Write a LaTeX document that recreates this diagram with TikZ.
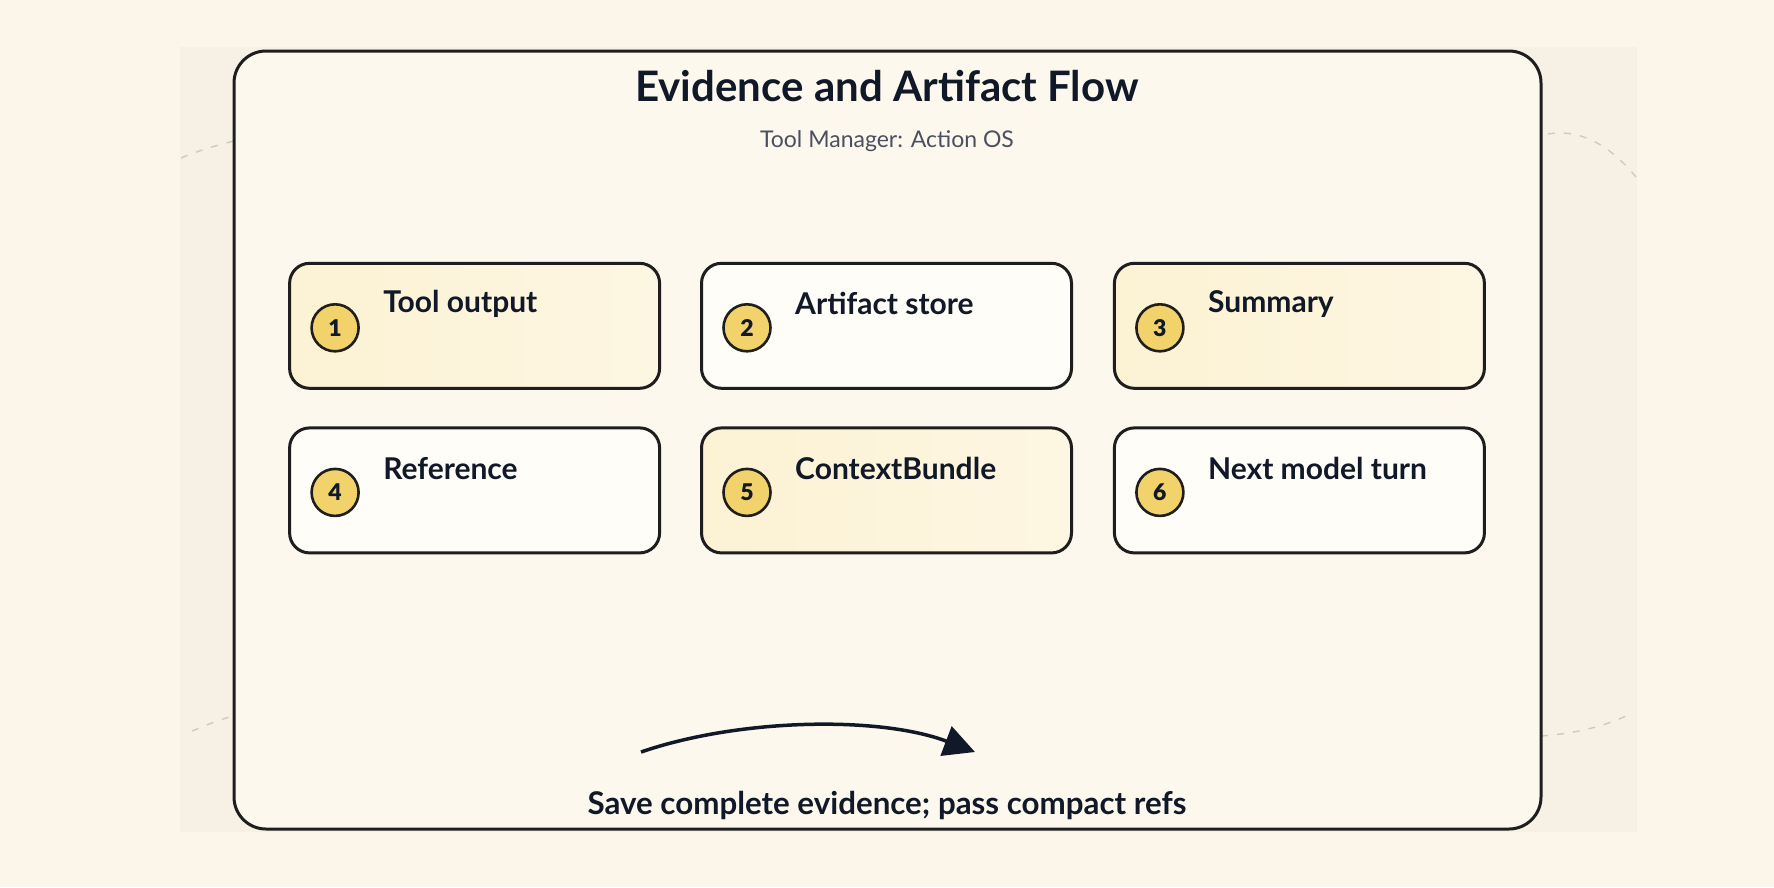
\documentclass[tikz,border=0pt]{standalone}
\usepackage{fontspec}
\setmainfont{Lato}
\newfontfamily\heavyfont{Lato Black}
\usetikzlibrary{arrows.meta,shapes.misc}
\definecolor{bgc}{HTML}{FBF5EA}
\definecolor{panelc}{HTML}{F7F1E5}
\definecolor{framefill}{HTML}{FCF8EE}
\definecolor{ink}{HTML}{111827}
\definecolor{strokec}{HTML}{1E1E1E}
\definecolor{subc}{HTML}{4B5060}
\definecolor{yelA}{HTML}{FCF2D4}
\definecolor{yelB}{HTML}{FDF6E2}
\definecolor{whiteA}{HTML}{FFFDF7}
\definecolor{badgec}{HTML}{F2D36B}
\definecolor{dashc}{HTML}{CFCAC1}
\tikzset{
  cardbox/.style={draw=strokec, line width=3pt, rounded corners=20pt,
    minimum width=370pt, minimum height=125pt, inner sep=0pt},
  yelcard/.style={cardbox, left color=yelA, right color=yelB},
  whitecard/.style={cardbox, fill=whiteA},
  badge/.style={circle, draw=strokec, line width=2.6pt, fill=badgec,
    minimum size=47pt, inner sep=0pt, text=ink, font=\fontsize{23}{23}\selectfont\heavyfont},
  lbl/.style={anchor=west, text=ink, inner sep=0pt, font=\fontsize{30}{30}\selectfont\bfseries},
  faintdash/.style={draw=dashc, line width=1.4pt, dash pattern=on 7pt off 9pt},
  flowarrow/.style={draw=ink, line width=3.5pt, -{Triangle[length=31pt,width=31pt]}}
}
\begin{document}
\begin{tikzpicture}[x=1pt,y=-1pt]
\fill[bgc] (0,0) rectangle (1774,887);
\useasboundingbox (0,0) rectangle (1774,887);
% faint panel behind frame
\fill[panelc] (180,47) rectangle (1637,832);
% faint dashed arcs
\draw[faintdash] (181,158) .. controls (200,150) and (218,145) .. (234,141);
\draw[faintdash] (1548,134) .. controls (1585,128) and (1615,150) .. (1640,182);
\draw[faintdash] (192,731) .. controls (207,725) and (220,719) .. (234,716);
\draw[faintdash] (1541,736) .. controls (1570,734) and (1600,728) .. (1626,716);
% main frame
\draw[draw=strokec, line width=3pt, fill=framefill, rounded corners=32pt] (234,51) rectangle (1541,829);
% title
\node[text=ink, font=\fontsize{42}{42}\selectfont\bfseries] (title) at (887,86) {Evidence and Artifact Flow};
\node[text=subc, font=\fontsize{23}{23}\selectfont] (subtitle) at (887,141) {Tool Manager: Action OS};
% cards
\node[yelcard]   (b1) at (474.6,325.8) {};
\node[whitecard] (b2) at (886.5,325.8) {};
\node[yelcard]   (b3) at (1299.4,325.8) {};
\node[whitecard] (b4) at (474.6,490.4) {};
\node[yelcard]   (b5) at (886.5,490.4) {};
\node[whitecard] (b6) at (1299.4,490.4) {};
\foreach \b/\n/\t in {b1/1/Tool output, b2/2/Artifact store, b3/3/Summary,
                      b4/4/Reference, b5/5/ContextBundle, b6/6/Next model turn}{
  \node[badge] (\b n) at ([xshift=47pt,yshift=-2pt]\b.west) {\n};
  \node[lbl] (\b t) at ([xshift=95pt,yshift=-42pt]\b.north west) {\t};
}
% arrow
\coordinate (arrs) at (641,752);
\coordinate (arre) at (975,752);
\draw[flowarrow] (arrs) .. controls (740,718) and (880,716) .. (arre);
\node[text=ink, font=\fontsize{31.3}{31.3}\selectfont\bfseries] (caption) at (887,805) {Save complete evidence; pass compact refs};
\end{tikzpicture}
\end{document}
